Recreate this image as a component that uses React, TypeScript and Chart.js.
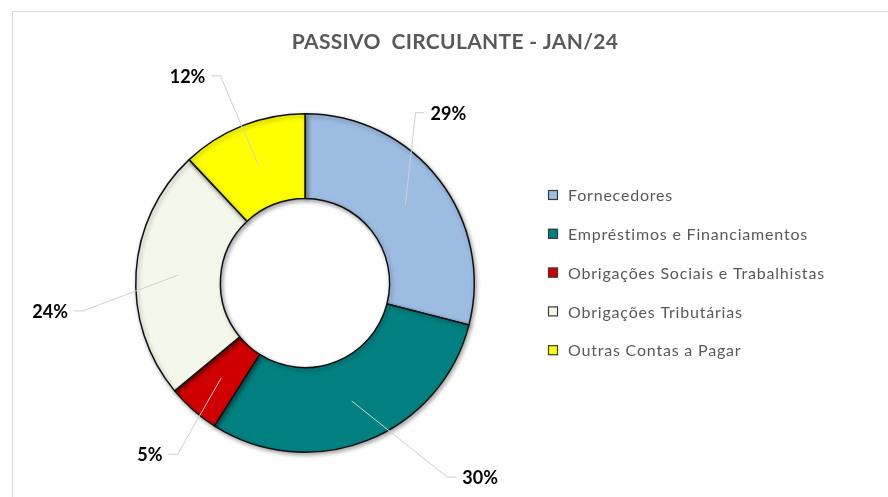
import React, { useEffect, useRef } from "react";
import { Chart, registerables } from "chart.js";

Chart.register(...registerables);

const TITLE = "PASSIVO  CIRCULANTE - JAN/24";
const categories = [
  "Fornecedores",
  "Empréstimos e Financiamentos",
  "Obrigações Sociais e Trabalhistas",
  "Obrigações Tributárias",
  "Outras Contas a Pagar",
];
const values = [29, 30, 5, 24, 12];
const colors = ["#9DBCE2", "#008080", "#D10000", "#F4F8EA", "#FFFF00"];
// label elbow positions, in units of the outer radius, relative to the center (layout only)
const labelElbows: [number, number][] = [
  [0.653, -1.006],
  [0.841, 1.147],
  [-0.753, 1.012],
  [-1.312, 0.165],
  [-0.5, -1.224],
];

const FONT = "Lato, 'Open Sans', sans-serif";

const drawPlugin = {
  id: "excelLook",
  beforeDraw(chart: any) {
    const ctx = chart.ctx;
    ctx.save();
    ctx.fillStyle = "#ffffff";
    ctx.fillRect(0, 0, chart.width, chart.height);
    ctx.strokeStyle = "#d9d9d9";
    ctx.lineWidth = 1;
    ctx.strokeRect(12.5, 11.5, 900, 520);
    ctx.fillStyle = "#595959";
    ctx.font = `bold 21px ${FONT}`;
    (ctx as any).letterSpacing = "0.3px";
    ctx.textAlign = "center";
    ctx.textBaseline = "middle";
    ctx.fillText(TITLE, 455, 42);
    ctx.restore();
  },
  beforeDatasetDraw(chart: any) {
    const ctx = chart.ctx;
    ctx.save();
    ctx.shadowColor = "rgba(0,0,0,0.35)";
    ctx.shadowBlur = 4;
    ctx.shadowOffsetX = 1.5;
    ctx.shadowOffsetY = 2;
  },
  afterDatasetDraw(chart: any) {
    chart.ctx.restore();
  },
  afterDraw(chart: any) {
    const ctx = chart.ctx;
    const meta = chart.getDatasetMeta(0);
    const total = values.reduce((a, b) => a + b, 0);
    ctx.save();
    meta.data.forEach((arc: any, i: number) => {
      const { x, y, startAngle, endAngle, innerRadius, outerRadius } = arc.getProps(
        ["x", "y", "startAngle", "endAngle", "innerRadius", "outerRadius"],
        true
      );
      const mid = (startAngle + endAngle) / 2;
      const rm = (innerRadius + outerRadius) / 2;
      const ax = x + Math.cos(mid) * rm;
      const ay = y + Math.sin(mid) * rm;
      const [ex, ey] = labelElbows[i];
      const bx = x + ex * outerRadius;
      const by = y + ey * outerRadius;
      const dir = ex >= 0 ? 1 : -1;
      const cx = bx + dir * 9;
      ctx.strokeStyle = "#d0d0d0";
      ctx.lineWidth = 1;
      ctx.beginPath();
      ctx.moveTo(ax, ay);
      ctx.lineTo(bx, by);
      ctx.lineTo(cx, by);
      ctx.stroke();
      ctx.fillStyle = "#000000";
      ctx.font = `bold 18px ${FONT}`;
      ctx.textBaseline = "middle";
      ctx.textAlign = dir > 0 ? "left" : "right";
      const pct = Math.round((values[i] / total) * 100) + "%";
      ctx.fillText(pct, cx + dir * 6, by + 1);
    });

    // legend
    const lx = 548;
    const ly0 = 195;
    const step = 38.8;
    categories.forEach((name, i) => {
      const cy = ly0 + i * step;
      ctx.fillStyle = colors[i];
      ctx.fillRect(lx, cy - 5, 10, 10);
      ctx.strokeStyle = "#3a3a3a";
      ctx.lineWidth = 1.2;
      ctx.strokeRect(lx + 0.5, cy - 4.5, 9, 9);
      ctx.fillStyle = "#595959";
      ctx.font = `16px ${FONT}`;
      (ctx as any).letterSpacing = "0.8px";
      ctx.textAlign = "left";
      ctx.textBaseline = "middle";
      ctx.fillText(name, 568, cy + 1);
      (ctx as any).letterSpacing = "0px";
    });
    ctx.restore();
  },
};

export default function App() {
  const ref = useRef<HTMLCanvasElement>(null);
  useEffect(() => {
    if (!ref.current) return;
    const chart = new Chart(ref.current, {
      type: "doughnut",
      data: {
        labels: categories,
        datasets: [
          {
            data: values,
            backgroundColor: colors,
            borderColor: "#111111",
            borderWidth: 1.5,
          },
        ],
      },
      options: {
        animation: false,
        responsive: false,
        events: [],
        cutout: "50%",
        layout: { padding: { left: 135, right: 413, top: 113, bottom: 44 } },
        plugins: {
          legend: { display: false },
          tooltip: { enabled: false },
          title: { display: false },
        },
      },
      plugins: [drawPlugin],
    });
    return () => chart.destroy();
  }, []);
  return (
    <div style={{ position: "fixed", left: 0, top: 0, width: 888, height: 497 }}>
      <canvas ref={ref} width={888} height={497} />
    </div>
  );
}
